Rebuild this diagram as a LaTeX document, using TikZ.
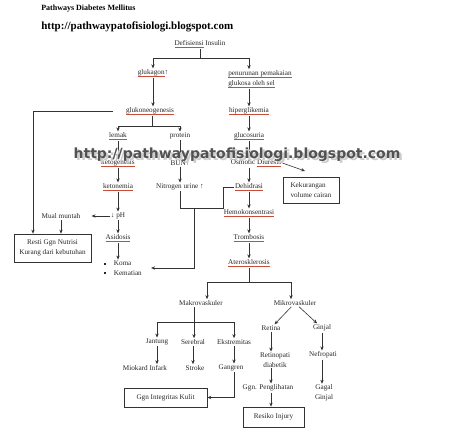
\documentclass[tikz,border=0pt]{standalone}
\usepackage[dvipsnames]{xcolor}
\usepackage{fontspec}
\setmainfont{Liberation Serif}
\newfontfamily\wmfont{DejaVu Sans}
\usetikzlibrary{arrows.meta}
% red spell-check underline
\newsavebox\sqbox
\newcommand\sq[1]{\sbox\sqbox{#1}\rlap{\textcolor{BrickRed!75}{\rule[-1.7pt]{\wd\sqbox}{0.35pt}}}\usebox\sqbox}

\begin{document}
\begin{tikzpicture}[x=1pt,y=-1pt,-,>={Stealth[length=4pt,width=3.4pt]},line width=0.6pt,color=black!80,
    main node/.style={inner sep=1pt,text=black!85,font=\fontsize{7.2}{9.5}\selectfont},
    box node/.style={main node,draw,line width=0.7pt}]
    \useasboundingbox (0,0) rectangle (474,433);

    \node[anchor=west,inner sep=0pt,text=black,font=\bfseries\fontsize{8}{9}\selectfont] (t1) at (41,9) {Pathways Diabetes Mellitus};
    \node[anchor=west,inner sep=0pt,text=black,font=\bfseries\fontsize{11}{12}\selectfont] (t2) at (41,27) {http://pathwaypatofisiologi.blogspot.com};

    \node[main node] (1) at (200,44) {\sq{Defisiensi} Insulin};
    \node[main node] (2) at (153,73) {\sq{glukagon}↑};
    \node[main node,align=left] (3) at (260,79) {\sq{penurunan pemakaian}\\[1pt]\sq{glukosa oleh sel}};
    \node[main node] (4) at (150,111) {\sq{glukoneogenesis}};
    \node[main node] (5) at (249,111) {\sq{hiperglikemia}};
    \node[main node] (6) at (118,136) {\sq{lemak}};
    \node[main node] (7) at (180,136) {protein};
    \node[main node] (8) at (249,136) {\sq{glucosuria}};
    \node[main node] (9) at (118,163) {\sq{ketogenesis}};
    \node[main node] (10) at (180,163) {BUN↑};
    \node[main node] (11) at (256,163) {Osmotic \sq{Diuresis}};
    \node[box node,align=left,minimum width=56pt,minimum height=26pt] (12) at (311,190) {Kekurangan\\volume cairan};
    \node[main node] (13) at (118,187) {\sq{ketonemia}};
    \node[main node] (14) at (180,187) {Nitrogen urine ↑};
    \node[main node] (15) at (249,187) {\sq{Dehidrasi}};
    \node[main node] (16) at (118,216) {↓ pH};
    \node[main node] (17) at (61,216) {Mual muntah};
    \node[main node] (18) at (249,213) {\sq{Hemokonsentrasi}};
    \node[main node] (19) at (118,238) {\sq{Asidosis}};
    \node[main node] (20) at (249,238) {\sq{Trombosis}};
    \node[box node,align=center,minimum width=77pt,minimum height=28pt] (21) at (52.5,248) {Resti Ggn Nutrisi\\Kurang dari kebutuhan};
    \node[main node,align=left] (22) at (123,268) {\rule[1pt]{1.6pt}{1.6pt}\hspace{8pt}Koma\\\rule[1pt]{1.6pt}{1.6pt}\hspace{8pt}Kematian};
    \node[main node] (23) at (249,263) {\sq{Aterosklerosis}};
    \node[main node] (24) at (201,303) {Makrovaskuler};
    \node[main node] (25) at (295,303) {Mikrovaskuler};
    \node[main node] (26) at (157,342) {Jantung};
    \node[main node] (27) at (193,342) {Serebral};
    \node[main node] (28) at (234,342) {Ekstremitas};
    \node[main node] (29) at (271,328) {Retina};
    \node[main node] (30) at (322,328) {Ginjal};
    \node[main node] (31) at (145,368) {Miokard Infark};
    \node[main node] (32) at (195,368) {Stroke};
    \node[main node] (33) at (231,368) {Gangren};
    \node[main node,align=center] (34) at (275,360) {Retinopati\\diabetik};
    \node[main node] (35) at (323,355) {Nefropati};
    \node[box node,minimum width=83pt,minimum height=19pt] (36) at (165.5,397.5) {Ggn Integritas Kulit};
    \node[main node] (37) at (268,388) {Ggn. Penglihatan};
    \node[main node,align=center] (38) at (324,393) {Gagal\\Ginjal};
    \node[box node,minimum width=61pt,minimum height=20pt] (39) at (273.5,417) {Resiko Injury};

    \coordinate (j1) at (200,58);
    \coordinate (j1r) at (249,58);
    \coordinate (j2) at (152,126);
    \coordinate (j3) at (223,208);
    \coordinate (j4) at (194,208);
    \coordinate (j6) at (249,282);
    \coordinate (j7) at (194,322);
    \coordinate (12a) at (305,171);

    \draw (1) -- (j1);
    \draw[->] (j1) -| (2);
    \draw[->] (j1) -- (j1r) -- (j1r |- 3.north);
    \draw (j2 |- 4.south) -- (j2);
    \draw[->] (j2) -| (6);
    \draw[->] (j2) -| (7);
    \draw[->,shorten <=12pt] (4) -| ([xshift=-19.5pt]21.north);
    \draw (14) |- (j3) |- (15);
    \draw[->,shorten >=8pt] (j4) |- (22);
    \draw (23) -- (j6);
    \draw[->] (j6) -| ([xshift=6pt]24.north);
    \draw[->] (j6) -| ([xshift=-4pt]25.north);
    \draw (j7 |- 24.south) -- (j7);
    \draw[->] (j7) -| (26);
    \draw[->] (j7) -- (j7 |- 27.north);
    \draw[->] (j7) -| (28);
    \draw[->] (33.south -| 28) |- (36);

    \path[->]
        (2) edge (2 |- 4.north)
        (j1r |- 3.south) edge (5)
        (6) edge (9) (9) edge (13) (13) edge (16) (16) edge (19)
        (19) edge (19 |- 22.north)
        (16) edge[shorten >=10pt] (17)
        (17) edge (17 |- 21.north)
        (7) edge (10) (10) edge (14)
        (5) edge (8) (8) edge (8 |- 11.north) (8 |- 11.south) edge (15)
        (15) edge (18) (18) edge (20) (20) edge (23)
        (11.east) edge (12a)
        (26) edge (26 |- 31.north)
        (27) edge (27 |- 32.north)
        (28) edge (28 |- 33.north)
        (25) edge (29) (25) edge (30)
        (29) edge (29 |- 34.north)
        (29 |- 34.south) edge (29 |- 37.north)
        (29 |- 37.south) edge (29 |- 39.north)
        (30) edge (30 |- 35.north)
        (30 |- 35.south) edge (30 |- 38.north)
        ;

    % watermark
    \node[inner sep=0pt,text=black!20,font=\wmfont\bfseries\fontsize{14}{14}\selectfont] (w0) at (239.5,157) {http://pathwaypatofisiologi.blogspot.com};
    \node[inner sep=0pt,text=black!68,font=\wmfont\bfseries\fontsize{14}{14}\selectfont] (w) at (237,155) {http://pathwaypatofisiologi.blogspot.com};
\end{tikzpicture}
\end{document}
